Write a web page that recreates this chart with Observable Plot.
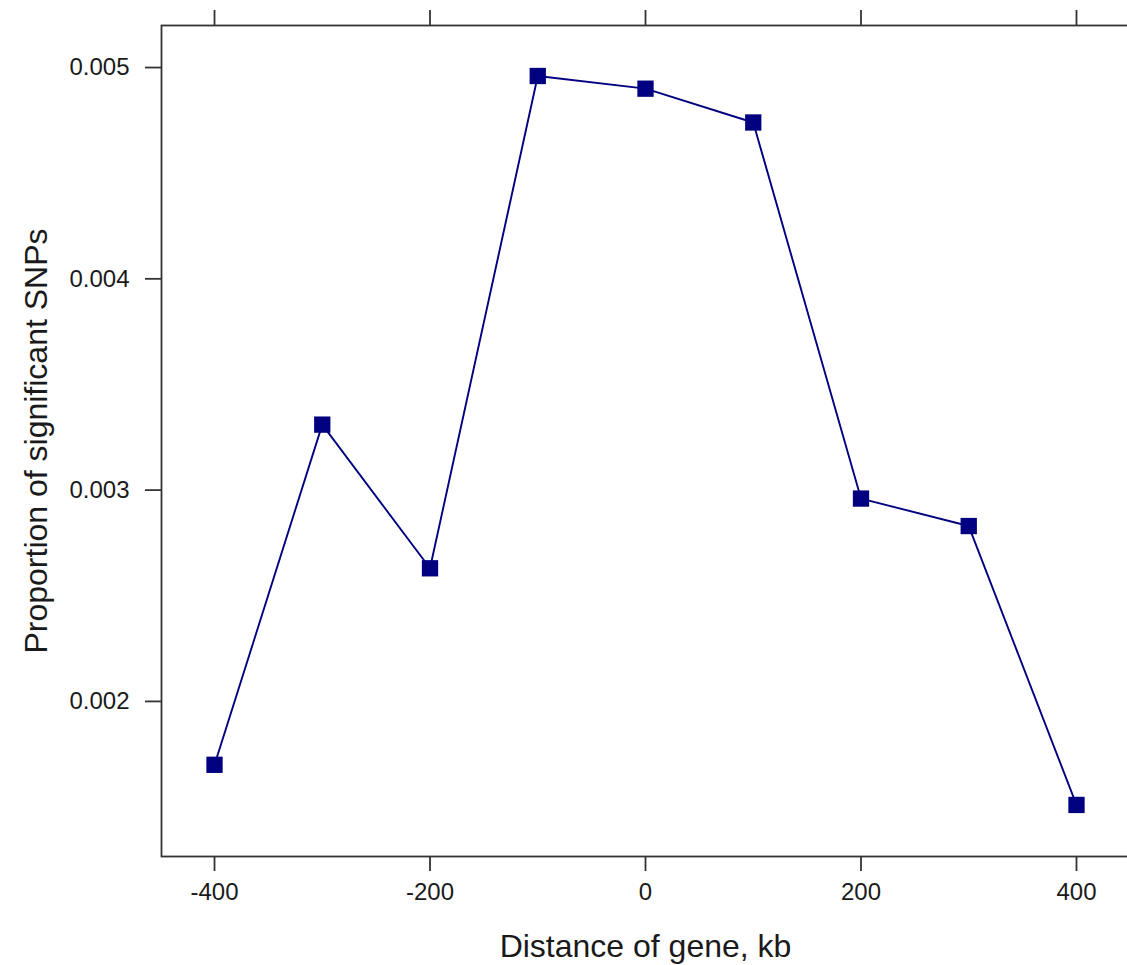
<!DOCTYPE html>
<html>
<head>
<meta charset="utf-8">
<script src="https://cdn.jsdelivr.net/npm/d3@7"></script>
<script src="https://cdn.jsdelivr.net/npm/@observablehq/plot@0.6"></script>
<style>
  html, body { margin: 0; padding: 0; background: #fff; overflow: hidden; }
</style>
</head>
<body>
<div id="chart"></div>
<script>
// Distance bins around the gene (kb)
const distance = [-400, -300, -200, -100, 0, 100, 200, 300, 400];
// Proportion of SNPs reaching significance in each bin
const proportion = [0.00170, 0.00331, 0.00263, 0.00496, 0.00490, 0.00474, 0.00296, 0.00283, 0.00151];
// Axis ticks
const xTicks = [-400, -200, 0, 200, 400];
const yTicks = [0.002, 0.003, 0.004, 0.005];

const rows = distance.map((d, i) => ({distance: d, proportion: proportion[i]}));

const ink = "#333";
const navy = "#000080";
const font = "'Liberation Sans', Arial, Helvetica, sans-serif";

const plot = Plot.plot({
  width: 1127,
  height: 965,
  marginLeft: 161,
  marginRight: -2,
  marginTop: 25,
  marginBottom: 109,
  style: {fontFamily: font, background: "#fff", color: "#1a1a1a"},
  x: {domain: [-449.2, 449.2]},
  y: {domain: [0.001266, 0.005199]},
  marks: [
    Plot.frame({stroke: ink, strokeWidth: 1.8}),
    Plot.axisX(xTicks, {anchor: "bottom", tickSize: 15, tickPadding: 11, fontSize: 24, stroke: ink, strokeWidth: 1.8, label: null, tickFormat: d => String(d)}),
    Plot.axisX(xTicks, {anchor: "top", tickSize: 16, stroke: ink, strokeWidth: 1.8, label: null, tickFormat: () => ""}),
    Plot.axisY(yTicks, {anchor: "left", tickSize: 16, tickPadding: 16, fontSize: 24, stroke: ink, strokeWidth: 1.8, label: null, tickFormat: d3.format(".3f")}),
    Plot.text(["Distance of gene, kb"], {frameAnchor: "bottom", textAnchor: "middle", dy: 90, fontSize: 32, fill: "#1a1a1a", lineAnchor: "middle"}),
    Plot.text(["Proportion of significant SNPs"], {frameAnchor: "left", textAnchor: "middle", dx: -125, rotate: -90, fontSize: 32, fill: "#1a1a1a", lineAnchor: "middle"}),
    Plot.line(rows, {x: "distance", y: "proportion", stroke: navy, strokeWidth: 1.9}),
    Plot.dot(rows, {x: "distance", y: "proportion", symbol: "square", r: 9.2, fill: navy, stroke: "none"})
  ]
});

document.getElementById("chart").appendChild(plot);
</script>
</body>
</html>
